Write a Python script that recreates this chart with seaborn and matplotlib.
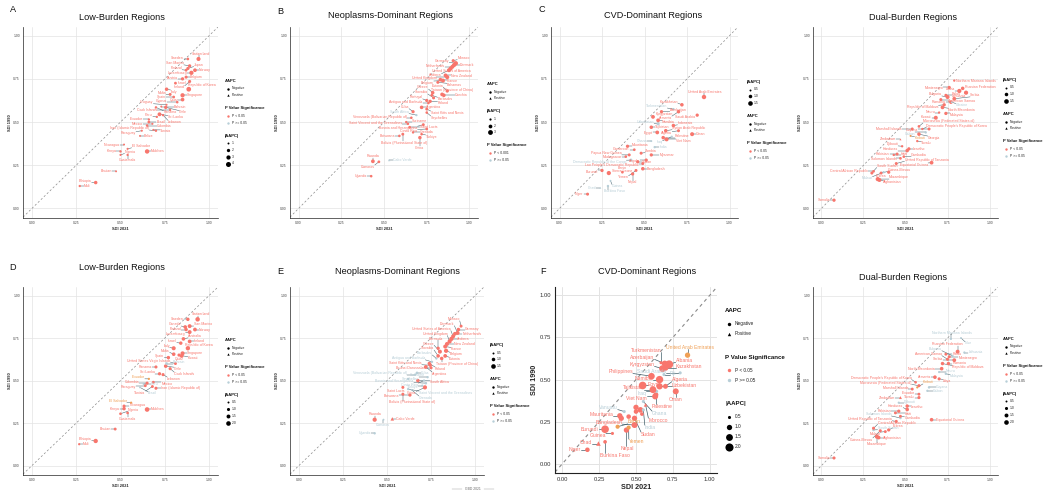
import matplotlib
matplotlib.use("Agg")
import numpy as np
import pandas as pd
import seaborn as sns
import matplotlib.pyplot as plt

# ---------------- DATA ----------------
A_names = ["Mali", "Ethiopia", "Bhutan", "Nigeria", "Kenya", "Nicaragua", "Guatemala", "El Salvador", "Maldives",
           "Belize", "Paraguay", "Colombia", "Brazil", "Ecuador", "Mexico", "Tunisia", "Iran (Islamic Republic of)",
           "Peru", "Sri Lanka", "Lebanon", "Panama", "Bahrain", "Chile", "Cook Islands", "Uruguay", "Cyprus", "Qatar",
           "Spain", "Malta", "Singapore", "Italy", "Republic of Korea", "Israel", "Ireland", "Austria", "Belgium",
           "Luxembourg", "Finland", "Norway", "Japan", "San Marino", "Sweden", "Switzerland"]
A_sdi2021 = [0.27, 0.36, 0.475, 0.50, 0.50, 0.52, 0.54, 0.54, 0.65, 0.61, 0.62, 0.65, 0.66, 0.66, 0.68, 0.685, 0.70,
             0.705, 0.72, 0.74, 0.70, 0.73, 0.755, 0.78, 0.76, 0.82, 0.85, 0.80, 0.78, 0.85, 0.76, 0.885, 0.81, 0.89,
             0.85, 0.87, 0.90, 0.87, 0.92, 0.88, 0.89, 0.88, 0.94]
A_sdi1990 = [0.13, 0.15, 0.215, 0.31, 0.33, 0.37, 0.31, 0.345, 0.33, 0.42, 0.45, 0.48, 0.50, 0.515, 0.49, 0.455, 0.45,
             0.53, 0.545, 0.54, 0.585, 0.59, 0.585, 0.57, 0.60, 0.615, 0.63, 0.645, 0.66, 0.655, 0.69, 0.69, 0.725,
             0.735, 0.75, 0.76, 0.785, 0.80, 0.80, 0.81, 0.825, 0.865, 0.865]
A_aapc = [-1.2, -2.2, -1.0, -1.1, -1.3, -1.0, -1.2, -1.1, -3.2, -1.0, -1.1, -1.4, -1.6, -1.2, -1.1, -1.0, -1.3, -1.2,
          -2.6, -1.2, -1.3, -1.0, -2.0, -1.2, -1.0, -1.4, -2.4, -1.5, -1.7, -3.0, -2.2, -3.6, -1.6, -1.8, -2.0, -1.8,
          -3.0, -1.6, -2.4, -1.9, -2.0, -1.5, -2.8]
A_sig = ["s"] * 43

B_names = ["Uganda", "Rwanda", "Comoros", "Cabo Verde", "Botswana", "Bolivia (Plurinational State of)", "Grenada",
           "Saint Lucia", "Saint Vincent and the Grenadines", "China", "Türkiye", "Costa Rica",
           "Bosnia and Herzegovina", "Suriname", "Venezuela (Bolivarian Republic of)", "South Africa", "Cuba",
           "Seychelles", "Argentina", "Saint Kitts and Nevis", "Portugal", "Poland", "Slovakia",
           "Antigua and Barbuda", "Barbados", "Greece", "Czechia", "Taiwan (Province of China)", "Estonia", "Bahamas",
           "Belgium", "France", "United Kingdom", "New Zealand", "Andorra", "United States of America",
           "Netherlands", "Denmark", "Germany", "Monaco"]
B_sdi2021 = [0.425, 0.435, 0.47, 0.53, 0.59, 0.61, 0.67, 0.65, 0.64, 0.71, 0.72, 0.75, 0.73, 0.63, 0.66, 0.69, 0.67,
             0.75, 0.72, 0.75, 0.75, 0.77, 0.79, 0.76, 0.78, 0.785, 0.85, 0.84, 0.87, 0.815, 0.845, 0.83, 0.87, 0.86,
             0.88, 0.89, 0.90, 0.91, 0.92, 0.905]
B_sdi1990 = [0.187, 0.273, 0.27, 0.28, 0.42, 0.43, 0.44, 0.47, 0.49, 0.41, 0.43, 0.46, 0.485, 0.50, 0.525, 0.54, 0.56,
             0.555, 0.585, 0.575, 0.625, 0.62, 0.64, 0.61, 0.655, 0.67, 0.655, 0.66, 0.68, 0.73, 0.74, 0.745, 0.76,
             0.77, 0.80, 0.81, 0.82, 0.83, 0.84, 0.855]
B_aapc = [-1.2, -2.0, -1.3, 1.0, -1.2, -1.4, -1.1, -1.3, -1.2, -1.8, -1.2, -1.3, -1.4, -1.1, -1.2, -1.0, -1.6, -1.2,
          -1.9, -1.4, -1.6, -1.7, -1.5, -1.2, -1.4, -1.8, -1.9, -2.0, -1.7, -1.5, -2.2, -2.0, -2.3, -2.1, -2.2,
          -2.3, -2.2, -2.4, -2.6, -1.6]
B_sig = ["s", "s", "s", "n", "s", "s", "s", "s", "s", "s", "s", "s", "s", "s", "s", "n", "s", "s", "s", "s", "s",
         "s", "s", "s", "s", "s", "s", "s", "s", "s", "s", "s", "s", "s", "s", "s", "s", "s", "s", "s"]

C_names = ["Niger", "Chad", "Burkina Faso", "Guinea", "Sierra Leone", "Burundi", "Benin", "Nepal", "Yemen",
           "Bangladesh", "Lao People's Democratic Republic", "Angola", "Sudan", "Mauritania", "Madagascar",
           "Papua New Guinea", "Democratic Republic of the Congo", "Cameroon", "Zambia", "Myanmar", "Ghana", "India",
           "Palestine", "Viet Nam", "Iraq", "Egypt", "Tajikistan", "Uzbekistan", "Syrian Arab Republic", "Indonesia",
           "Oman", "Algeria", "Kyrgyzstan", "Turkmenistan", "Azerbaijan", "Armenia", "Kazakhstan", "Saudi Arabia",
           "United Arab Emirates", "Namibia"]
C_sdi2021 = [0.165, 0.24, 0.285, 0.30, 0.29, 0.25, 0.37, 0.43, 0.45, 0.49, 0.49, 0.51, 0.46, 0.40, 0.39, 0.41, 0.42,
             0.44, 0.48, 0.54, 0.54, 0.56, 0.61, 0.63, 0.66, 0.575, 0.54, 0.58, 0.625, 0.67, 0.78, 0.70, 0.55, 0.67,
             0.60, 0.70, 0.72, 0.81, 0.85, 0.58]
C_sdi1990 = [0.083, 0.12, 0.13, 0.16, 0.205, 0.22, 0.21, 0.20, 0.22, 0.23, 0.26, 0.28, 0.27, 0.36, 0.30, 0.31, 0.28,
             0.34, 0.32, 0.31, 0.39, 0.355, 0.41, 0.40, 0.415, 0.44, 0.47, 0.49, 0.45, 0.48, 0.43, 0.45, 0.53, 0.575,
             0.56, 0.56, 0.60, 0.54, 0.645, 0.51]
C_aapc = [-0.8, 0.5, -0.6, -0.5, -1.3, -0.9, -0.7, -0.9, -0.8, -1.0, -0.8, -0.9, -0.9, -0.9, -0.7, -0.8, -0.8, -0.7,
          -0.8, -0.9, -0.5, -0.6, -1.0, -1.2, -0.6, -1.1, -1.0, -0.9, -1.0, -1.0, -1.2, -0.8, -1.1, -0.6, -0.9, -1.0,
          -1.0, -0.9, -1.4, -1.1]
C_sig = ["s", "n", "n", "n", "s", "s", "s", "s", "s", "s", "s", "s", "s", "s", "s", "s", "n", "s", "s", "s", "n",
         "n", "s", "s", "n", "s", "s", "n", "s", "s", "s", "s", "s", "n", "s", "s", "s", "s", "s", "s"]

DA_names = ["Somalia", "Mozambique", "Afghanistan", "South Sudan", "Central African Republic", "Guinea-Bissau",
            "Malawi", "Eritrea", "United Republic of Tanzania", "Solomon Islands", "Haiti", "Pakistan", "Cambodia",
            "Honduras", "Lesotho", "Djibouti", "Equatorial Guinea", "Zimbabwe", "Tuvalu", "Kiribati", "Georgia",
            "Marshall Islands", "Micronesia (Federated States of)", "Democratic People's Republic of Korea", "Guyana",
            "Gabon", "Kuwait", "Nauru", "Malaysia", "North Macedonia", "Romania", "Republic of Moldova",
            "American Samoa", "Bulgaria", "Serbia", "Lithuania", "Latvia", "Russian Federation", "Montenegro",
            "Palau", "Northern Mariana Islands", "Ukraine"]
DA_sdi2021 = [0.075, 0.335, 0.345, 0.30, 0.31, 0.355, 0.37, 0.40, 0.445, 0.47, 0.43, 0.45, 0.49, 0.51, 0.52, 0.48,
              0.655, 0.47, 0.57, 0.53, 0.58, 0.54, 0.58, 0.60, 0.64, 0.62, 0.68, 0.70, 0.74, 0.72, 0.77, 0.73, 0.71,
              0.75, 0.79, 0.86, 0.82, 0.84, 0.76, 0.74, 0.79, 0.775]
DA_sdi1990 = [0.048, 0.17, 0.165, 0.205, 0.215, 0.205, 0.21, 0.21, 0.26, 0.29, 0.31, 0.315, 0.30, 0.335, 0.345, 0.36,
              0.265, 0.40, 0.39, 0.42, 0.43, 0.46, 0.475, 0.46, 0.46, 0.44, 0.525, 0.555, 0.55, 0.585, 0.615, 0.60,
              0.63, 0.645, 0.635, 0.67, 0.68, 0.695, 0.70, 0.655, 0.74, 0.615]
DA_aapc = [-0.9, -1.3, -1.2, -0.8, -0.7, -0.8, -0.6, -0.9, -0.8, -0.7, -0.6, -0.8, -0.7, -1.0, -0.9, -0.6, -1.1, 0.5,
           -0.6, -0.5, -1.0, -0.8, -0.7, -0.6, -0.8, -0.6, -1.2, -0.6, -0.9, -1.1, -1.0, -0.9, -0.8, -1.2, -1.1,
           -1.3, -1.3, -1.0, -0.9, -0.8, -0.6, -0.5]
DA_sig = ["s", "s", "s", "s", "s", "s", "n", "s", "s", "s", "s", "s", "s", "s", "s", "s", "s", "s", "s", "o", "s",
          "s", "s", "s", "s", "n", "s", "s", "s", "s", "s", "s", "s", "s", "s", "s", "s", "s", "s", "s", "s", "n"]

D_names = ["Mali", "Ethiopia", "Bhutan", "Nigeria", "Kenya", "Nicaragua", "Guatemala", "El Salvador", "Maldives",
           "Brazil", "Peru", "Ecuador", "Paraguay", "Colombia", "Tunisia", "Mexico", "Iran (Islamic Republic of)",
           "Sri Lanka", "Lebanon", "Panama", "Chile", "Cook Islands", "Bahrain", "United States Virgin Islands",
           "Spain", "Malta", "Qatar", "Singapore", "Kuwait", "Italy", "Republic of Korea", "Israel", "Ireland",
           "Australia", "Luxembourg", "Finland", "Norway", "Canada", "San Marino", "Sweden", "Switzerland"]
D_sdi2021 = [0.267, 0.36, 0.47, 0.50, 0.52, 0.52, 0.54, 0.56, 0.65, 0.61, 0.63, 0.66, 0.64, 0.65, 0.68, 0.685, 0.70,
             0.72, 0.74, 0.70, 0.755, 0.78, 0.76, 0.81, 0.77, 0.80, 0.845, 0.85, 0.83, 0.80, 0.88, 0.84, 0.89, 0.855,
             0.89, 0.87, 0.92, 0.865, 0.89, 0.88, 0.935]
D_sdi1990 = [0.126, 0.145, 0.215, 0.305, 0.335, 0.35, 0.31, 0.37, 0.33, 0.46, 0.48, 0.51, 0.47, 0.485, 0.465, 0.49,
             0.455, 0.54, 0.535, 0.58, 0.585, 0.57, 0.60, 0.60, 0.635, 0.655, 0.645, 0.66, 0.65, 0.69, 0.69, 0.72,
             0.73, 0.745, 0.785, 0.80, 0.80, 0.815, 0.82, 0.86, 0.86]
D_aapc = [-0.6, -1.8, -0.9, -0.8, -1.2, -1.0, -0.8, -0.6, -2.0, -0.5, -0.5, -0.6, -0.9, -1.0, -0.9, -0.9, -1.0, -1.1,
          -1.0, -1.0, -1.3, -1.0, -0.8, -0.9, -1.2, -1.3, -1.5, -1.6, -1.0, -1.6, -1.8, -1.2, -1.4, -1.3, -1.5, -1.2,
          -1.4, -1.3, -1.5, -1.2, -1.9]
D_sig = ["s", "s", "s", "s", "s", "s", "s", "o", "s", "n", "n", "o", "s", "s", "s", "s", "s", "s", "s", "s", "s",
         "s", "n", "s", "s", "s", "s", "s", "s", "s", "s", "s", "s", "s", "s", "s", "s", "s", "s", "s", "s"]

E_names = ["Uganda", "Rwanda", "Comoros", "Cabo Verde", "Bolivia (Plurinational State of)", "Botswana",
           "Saint Vincent and the Grenadines", "Grenada", "Saint Lucia", "China", "Türkiye",
           "Bosnia and Herzegovina", "Costa Rica", "Seychelles", "Suriname", "South Africa",
           "Venezuela (Bolivarian Republic of)", "Cuba", "Argentina", "Saint Kitts and Nevis", "Brunei Darussalam",
           "Poland", "Antigua and Barbuda", "Barbados", "Taiwan (Province of China)", "Slovakia", "Estonia",
           "Greece", "Bermuda", "Belgium", "France", "New Zealand", "United Kingdom", "Andorra",
           "United States of America", "Netherlands", "Denmark", "Germany", "Monaco"]
E_sdi2021 = [0.43, 0.43, 0.48, 0.53, 0.59, 0.63, 0.62, 0.64, 0.59, 0.715, 0.70, 0.72, 0.71, 0.73, 0.62, 0.675, 0.66,
             0.67, 0.72, 0.745, 0.75, 0.74, 0.755, 0.78, 0.81, 0.79, 0.83, 0.80, 0.79, 0.835, 0.83, 0.84, 0.855,
             0.865, 0.875, 0.885, 0.90, 0.905, 0.92]
E_sdi1990 = [0.19, 0.27, 0.27, 0.275, 0.42, 0.415, 0.45, 0.445, 0.46, 0.46, 0.47, 0.485, 0.50, 0.52, 0.51, 0.50,
             0.535, 0.545, 0.58, 0.59, 0.575, 0.60, 0.61, 0.63, 0.63, 0.645, 0.645, 0.67, 0.69, 0.675, 0.70, 0.715,
             0.73, 0.745, 0.76, 0.775, 0.78, 0.80, 0.82]
E_aapc = [-0.6, -1.3, -0.5, 1.0, -0.8, -0.9, -0.6, -0.5, -0.8, -1.3, -0.6, -0.7, -0.6, -0.6, -0.6, -1.0, -0.6, -0.7,
          -1.1, -0.9, -0.8, -1.0, -0.6, -0.6, -1.0, -1.0, -1.1, -1.2, -0.9, -1.3, -1.2, -1.2, -1.3, -1.3, -1.2, -1.1,
          -1.2, -1.0, -0.8]
E_sig = ["n", "s", "n", "s", "s", "s", "n", "n", "s", "s", "n", "n", "n", "n", "n", "s", "n", "n", "s", "s", "s",
         "s", "n", "n", "s", "s", "s", "s", "s", "s", "s", "s", "s", "s", "s", "s", "s", "s", "s"]

F_names = ["Niger", "Chad", "Burkina Faso", "Guinea", "Burundi", "Benin", "Nepal", "Yemen", "Bangladesh", "Sudan",
           "Mauritania", "", "Vanuatu", "", "", "", "", "", "India", "Ghana", "Morocco", "Viet Nam", "Palestine",
           "Iraq", "Egypt", "Tajikistan", "Uzbekistan", "Algeria", "Oman", "Namibia", "Philippines", "Fiji",
           "Saudi Arabia", "Kyrgyzstan", "Kazakhstan", "Albania", "Azerbaijan", "Turkmenistan",
           "United Arab Emirates"]
F_sdi2021 = [0.17, 0.245, 0.29, 0.34, 0.29, 0.375, 0.435, 0.45, 0.49, 0.49, 0.39, 0.40, 0.42, 0.45, 0.50, 0.53, 0.54,
             0.50, 0.55, 0.55, 0.565, 0.63, 0.635, 0.64, 0.545, 0.615, 0.66, 0.70, 0.77, 0.66, 0.605, 0.69, 0.80,
             0.68, 0.70, 0.725, 0.695, 0.67, 0.85]
F_sdi1990 = [0.083, 0.12, 0.13, 0.18, 0.205, 0.22, 0.20, 0.215, 0.23, 0.27, 0.285, 0.27, 0.31, 0.28, 0.31, 0.32, 0.295,
             0.335, 0.32, 0.37, 0.35, 0.40, 0.41, 0.43, 0.465, 0.44, 0.46, 0.46, 0.43, 0.50, 0.52, 0.53, 0.54, 0.565,
             0.57, 0.59, 0.595, 0.60, 0.645]
F_aapc = [-0.8, 0.8, -0.6, -0.5, -1.8, -0.7, -1.0, -0.7, -1.2, -1.0, -1.0, -1.0, -0.5, -0.8, -0.8, -1.1, -0.6, -1.0,
          -0.4, -0.5, 0.6, -1.2, -0.9, -0.5, -1.8, -1.5, -1.3, -0.9, -1.2, -1.7, -1.4, -0.4, -0.4, -1.5, -1.2, -2.0,
          -1.2, -0.5, -1.0]
F_sig = ["s", "s", "s", "s", "s", "o", "s", "o", "s", "s", "s", "s", "n", "s", "s", "s", "s", "s", "n", "n", "s",
         "s", "s", "n", "s", "s", "s", "s", "s", "s", "s", "n", "n", "s", "s", "s", "s", "s", "o"]

DB_names = ["Somalia", "Mozambique", "Afghanistan", "South Sudan", "Central African Republic", "Guinea-Bissau",
            "Malawi", "Eritrea", "United Republic of Tanzania", "Solomon Islands", "Haiti", "Pakistan", "Cambodia",
            "Honduras", "Lesotho", "Djibouti", "Equatorial Guinea", "Zimbabwe", "Tuvalu", "Ecuador", "Kiribati",
            "Marshall Islands", "Micronesia (Federated States of)", "Democratic People's Republic of Korea",
            "Guyana", "Gabon", "Armenia", "Libya", "Nauru", "Malaysia", "North Macedonia", "Republic of Moldova",
            "Romania", "American Samoa", "Bulgaria", "Serbia", "Lithuania", "Russian Federation", "Montenegro",
            "Palau", "Northern Mariana Islands", "Niue"]
DB_sdi2021 = [0.075, 0.33, 0.34, 0.31, 0.31, 0.35, 0.38, 0.40, 0.445, 0.47, 0.44, 0.46, 0.47, 0.51, 0.51, 0.46,
              0.655, 0.47, 0.58, 0.58, 0.57, 0.54, 0.58, 0.56, 0.64, 0.63, 0.675, 0.70, 0.70, 0.74, 0.715, 0.72,
              0.755, 0.75, 0.78, 0.79, 0.85, 0.81, 0.76, 0.74, 0.77, 0.83]
DB_sdi1990 = [0.045, 0.17, 0.165, 0.21, 0.22, 0.205, 0.20, 0.21, 0.26, 0.28, 0.31, 0.32, 0.29, 0.33, 0.35, 0.37,
              0.27, 0.40, 0.40, 0.42, 0.46, 0.45, 0.47, 0.49, 0.46, 0.44, 0.52, 0.51, 0.55, 0.54, 0.57, 0.60, 0.60,
              0.625, 0.645, 0.62, 0.665, 0.67, 0.64, 0.655, 0.745, 0.75]
DB_aapc = [-1.0, -1.6, -1.4, -0.8, -1.0, -1.0, -0.9, -1.1, -1.0, -0.7, -0.9, -1.1, -0.9, -1.3, -1.2, -0.6, -1.3, 0.9,
           -1.0, -0.9, -0.6, -0.9, -1.0, -0.8, -0.7, -0.6, -1.3, -1.0, -0.6, -0.7, -1.3, -1.2, -1.2, -1.0, -0.6,
           -1.4, -0.6, -1.5, -1.0, -0.9, -0.6, -0.5]
DB_sig = ["s", "s", "s", "n", "s", "s", "s", "s", "s", "n", "s", "s", "s", "s", "s", "n", "s", "s", "s", "s", "o",
          "s", "s", "s", "n", "n", "s", "s", "n", "n", "s", "s", "s", "s", "n", "s", "n", "s", "s", "s", "n", "n"]

# ---------------- STYLE ----------------
sns.set_theme(style="white")
plt.rcParams["font.family"] = ["Liberation Sans", "DejaVu Sans"]

PAL = {"s": "#F8766D", "n": "#B7CED7", "o": "#F0A055"}
W, H = 1050, 495
fig = plt.figure(figsize=(W / 100, H / 100), dpi=100)
fig.patch.set_facecolor("white")
overlay = fig.add_axes([0, 0, 1, 1])
overlay.set_xlim(0, W)
overlay.set_ylim(H, 0)
overlay.axis("off")
overlay.patch.set_alpha(0)

renderer = fig.canvas.get_renderer()
TICKS = [0.0, 0.25, 0.5, 0.75, 1.0]


def size_of(v, norm, sizes):
    t = (v - norm[0]) / (norm[1] - norm[0])
    t = min(max(t, 0), 1)
    return sizes[0] + t * (sizes[1] - sizes[0])


def repel(ax, px, py, names, colors, fs, big=False):
    pts = ax.transData.transform(np.column_stack([px, py]))
    n = len(names)
    texts = []
    wh = np.zeros((n, 2))
    lab = np.array([bool(s) for s in names])
    padx, pady = (4.0, 3.0) if big else (2.5, 1.7)
    for i in range(n):
        t = ax.text(px[i], py[i], names[i], fontsize=fs, color=colors[i], ha="center", va="center", zorder=6)
        texts.append(t)
        if names[i]:
            bb = t.get_window_extent(renderer)
            wh[i] = [bb.width + padx, bb.height * 0.8 + pady]
    order = np.argsort(np.array(py) - np.array(px) * 0.3)
    side = np.zeros(n)
    side[order[::2]] = -1
    side[order[1::2]] = 1
    pos = pts.copy()
    pos[:, 0] += side * (wh[:, 0] / 2 + 4)
    pos[:, 1] += side * 1.5
    axbb = ax.get_window_extent(renderer)
    idx = np.arange(n)
    tie = np.sign(idx[:, None] - idx[None, :]).astype(float)
    r = 4.5 if big else 2.8
    total = 1200
    for it in range(total):
        d = pos[:, None, :] - pos[None, :, :]
        ox = (wh[:, None, 0] + wh[None, :, 0]) / 2 - np.abs(d[..., 0])
        oy = (wh[:, None, 1] + wh[None, :, 1]) / 2 - np.abs(d[..., 1])
        m = (ox > 0) & (oy > 0) & lab[:, None] & lab[None, :]
        np.fill_diagonal(m, False)
        sy = np.sign(d[..., 1]); sy[sy == 0] = tie[sy == 0]
        sx = np.sign(d[..., 0]); sx[sx == 0] = tie[sx == 0]
        usey = oy * 1.5 <= ox
        fy = np.sum(np.where(m & usey, sy * oy * 0.5, 0), axis=1)
        fx = np.sum(np.where(m & ~usey, sx * ox * 0.5, 0), axis=1)
        dp = pos[:, None, :] - pts[None, :, :]
        oxp = wh[:, None, 0] / 2 + r - np.abs(dp[..., 0])
        oyp = wh[:, None, 1] / 2 + r - np.abs(dp[..., 1])
        mp = (oxp > 0) & (oyp > 0) & lab[:, None]
        usep = oyp <= oxp
        syp = np.sign(dp[..., 1]); syp[syp == 0] = 1
        sxp = np.sign(dp[..., 0]); sxp[sxp == 0] = 1
        w_pt = 0.5 if it < 1000 else 0.15
        fy += np.sum(np.where(mp & usep, syp * oyp * w_pt, 0), axis=1)
        fx += np.sum(np.where(mp & ~usep, sxp * oxp * w_pt, 0), axis=1)
        if it < 700:
            k = 0.004
        elif it < 1000:
            k = 0.0015
        else:
            k = 0.0
        fx += k * (pts[:, 0] - pos[:, 0])
        fy += k * (pts[:, 1] - pos[:, 1])
        step = 2.0 if it < 1000 else 1.0
        pos[:, 0] += np.clip(fx, -step, step)
        pos[:, 1] += np.clip(fy, -step, step)
        pos[:, 0] = np.clip(pos[:, 0], axbb.x0 + wh[:, 0] / 2 + 1, axbb.x1 - wh[:, 0] / 2 - 1)
        pos[:, 1] = np.clip(pos[:, 1], axbb.y0 + wh[:, 1] / 2 + 1, axbb.y1 - wh[:, 1] / 2 - 1)
    inv = ax.transData.inverted()
    for i in range(n):
        if not lab[i]:
            texts[i].set_visible(False)
            continue
        texts[i].set_position(inv.transform(pos[i]))
        hw, hh = (wh[i, 0] - padx) / 2, (wh[i, 1] - pady) / 2
        cx = np.clip(pts[i, 0], pos[i, 0] - hw, pos[i, 0] + hw)
        cy = np.clip(pts[i, 1], pos[i, 1] - hh, pos[i, 1] + hh)
        if np.hypot(cx - pts[i, 0], cy - pts[i, 1]) > 3.5:
            a = inv.transform(pts[i]); b = inv.transform([cx, cy])
            ax.plot([a[0], b[0]], [a[1], b[1]], color="#3F5E69", lw=0.35 if not big else 0.5, zorder=3)


def panel(box, names, x, y, aapc, sig, norm, sizes, big=False):
    l, t, r, b = box
    ax = fig.add_axes([l / W, 1 - b / H, (r - l) / W, (b - t) / H])
    df = pd.DataFrame({"name": names, "SDI 2021": x, "SDI 1990": y, "aapc": aapc, "sig": sig})
    df["direction"] = np.where(df["aapc"] < 0, "Negative", "Positive")
    df["abs_aapc"] = df["aapc"].abs()
    ax.set_xlim(-0.05, 1.05)
    ax.set_ylim(-0.055, 1.05)
    ax.axline((0, 0), slope=1, color="#8A8A8A", lw=0.5 if not big else 0.8, ls=(0, (3, 3)), zorder=1)
    sns.scatterplot(data=df, x="SDI 2021", y="SDI 1990", hue="sig", palette=PAL, style="direction",
                    markers={"Negative": "o", "Positive": "^"}, size="abs_aapc", sizes=sizes, size_norm=norm,
                    legend=False, ax=ax, linewidth=0, zorder=4)
    ax.set_xticks(TICKS)
    ax.set_yticks(TICKS)
    ax.set_xticklabels([f"{v:.2f}" for v in TICKS])
    ax.set_yticklabels([f"{v:.2f}" for v in TICKS])
    ax.grid(True, color="#E3E3E3", lw=0.5 if not big else 0.7)
    for s in ["top", "right"]:
        ax.spines[s].set_visible(False)
    for s in ["left", "bottom"]:
        ax.spines[s].set_color("#222222")
        ax.spines[s].set_linewidth(0.5 if not big else 0.8)
    if big:
        ax.tick_params(labelsize=4.2, length=1.8, width=0.5, pad=1, colors="#333333")
        ax.set_xlabel("SDI 2021", fontsize=5.2, weight="bold", labelpad=1.5)
        ax.set_ylabel("SDI 1990", fontsize=5.2, weight="bold", labelpad=1.5)
    else:
        ax.tick_params(labelsize=2.4, length=1.2, width=0.4, pad=1, colors="#444444")
        ax.set_xlabel("SDI 2021", fontsize=2.9, weight="bold", labelpad=1.2)
        ax.set_ylabel("SDI 1990", fontsize=2.9, weight="bold", labelpad=1.2)
    colors = [PAL[s] for s in sig]
    repel(ax, list(x), list(y), names, colors, 3.6 if big else 2.55, big=big)
    return ax


def legend(x, y0, order, norm, sizes, vals, plabel="P < 0.05", big=False):
    if big:
        fs_t, fs_i, dt, di, dg, mx, tx = 4.4, 3.4, 12.5, 10, 24, 4, 10
    else:
        fs_t, fs_i, dt, di, dg, mx, tx = 3.0, 2.4, 7.5, 6.8, 13, 3, 7
    y = y0
    for sec in order:
        if sec == "aapc":
            title = "AAPC"
            items = [("o", 3 if not big else 6, "black", "Negative"), ("^", 3 if not big else 6, "black", "Positive")]
        elif sec == "p":
            title = "P Value Significance"
            items = [("o", 3 if not big else 6, PAL["s"], plabel), ("o", 3 if not big else 6, PAL["n"], "P >= 0.05")]
        else:
            title = "|AAPC|"
            items = [("o", size_of(v, norm, sizes), "black", f"{v:g}" if v == int(v) and norm[1] > 2 else f"{v:.1f}")
                     for v in vals]
        overlay.text(x, y, title, fontsize=fs_t, weight="bold", va="center", ha="left", color="#111111")
        y += dt
        for mk, s, c, lbl in items:
            overlay.scatter([x + mx], [y], s=s, marker=mk, color=c, linewidths=0)
            overlay.text(x + tx, y, lbl, fontsize=fs_i, va="center", ha="left", color="#222222")
            y += di
        y += dg - di


SMALL = (2.0, 11.0)

# Row 1
panel((23, 27, 218, 218), A_names, A_sdi2021, A_sdi1990, A_aapc, A_sig, (1, 4), (2.0, 13.0))
legend(225, 81, ["aapc", "p", "abs"], (1, 4), (2.0, 13.0), [1, 2, 3, 4])
panel((290, 27, 478, 218), B_names, B_sdi2021, B_sdi1990, B_aapc, B_sig, (1, 3), (2.5, 12.0))
legend(487, 84, ["aapc", "abs", "p"], (1, 3), (2.5, 12.0), [1, 2, 3], plabel="P < 0.001")
panel((551, 27, 738, 218), C_names, C_sdi2021, C_sdi1990, C_aapc, C_sig, (0.5, 1.5), SMALL)
legend(747, 82, ["abs", "aapc", "p"], (0.5, 1.5), SMALL, [0.5, 1.0, 1.5])
panel((813, 27, 998, 218), DA_names, DA_sdi2021, DA_sdi1990, DA_aapc, DA_sig, (0.5, 1.5), SMALL)
legend(1003, 80, ["abs", "aapc", "p"], (0.5, 1.5), SMALL, [0.5, 1.0, 1.5])

# Row 2
panel((23, 287, 218, 475), D_names, D_sdi2021, D_sdi1990, D_aapc, D_sig, (0.5, 2.0), SMALL)
legend(225, 340, ["aapc", "p", "abs"], (0.5, 2.0), SMALL, [0.5, 1.0, 1.5, 2.0])
panel((290, 287, 484, 475), E_names, E_sdi2021, E_sdi1990, E_aapc, E_sig, (0.5, 1.5), SMALL)
legend(490, 345, ["abs", "aapc", "p"], (0.5, 1.5), SMALL, [0.5, 1.0, 1.5])
panel((555, 287, 717, 473), F_names, F_sdi2021, F_sdi1990, F_aapc, F_sig, (0.5, 2.0), (5.0, 34.0), big=True)
legend(725, 311, ["aapc", "p", "abs"], (0.5, 2.0), (5.0, 34.0), [0.5, 1.0, 1.5, 2.0], big=True)
panel((813, 287, 998, 475), DB_names, DB_sdi2021, DB_sdi1990, DB_aapc, DB_sig, (0.5, 2.0), SMALL)
legend(1003, 339, ["aapc", "p", "abs"], (0.5, 2.0), SMALL, [0.5, 1.0, 1.5, 2.0])

# Titles and panel letters
TITLE_FS = 6.6
titles = [("A", 13, 10, "Low-Burden Regions", 122, 17),
          ("B", 280, 12, "Neoplasms-Dominant Regions", 390, 15),
          ("C", 542, 10, "CVD-Dominant Regions", 653, 15),
          ("", 0, 0, "Dual-Burden Regions", 913, 17),
          ("D", 13, 267, "Low-Burden Regions", 122, 268),
          ("E", 280, 271, "Neoplasms-Dominant Regions", 397, 271),
          ("F", 543, 272, "CVD-Dominant Regions", 647, 272),
          ("", 0, 0, "Dual-Burden Regions", 903, 277)]
for letter, lx, ly, title, tx, ty in titles:
    if letter:
        overlay.text(lx, ly, letter, fontsize=TITLE_FS, ha="center", va="center", color="#111111")
    overlay.text(tx, ty, title, fontsize=TITLE_FS, ha="center", va="center", color="#111111")

overlay.text(473, 489, "GBD 2021", fontsize=2.4, ha="center", va="center", color="#666666")
overlay.plot([452, 462], [489, 489], color="#999999", lw=0.3)
overlay.plot([484, 494], [489, 489], color="#999999", lw=0.3)

fig.savefig("out.png", dpi=100)
